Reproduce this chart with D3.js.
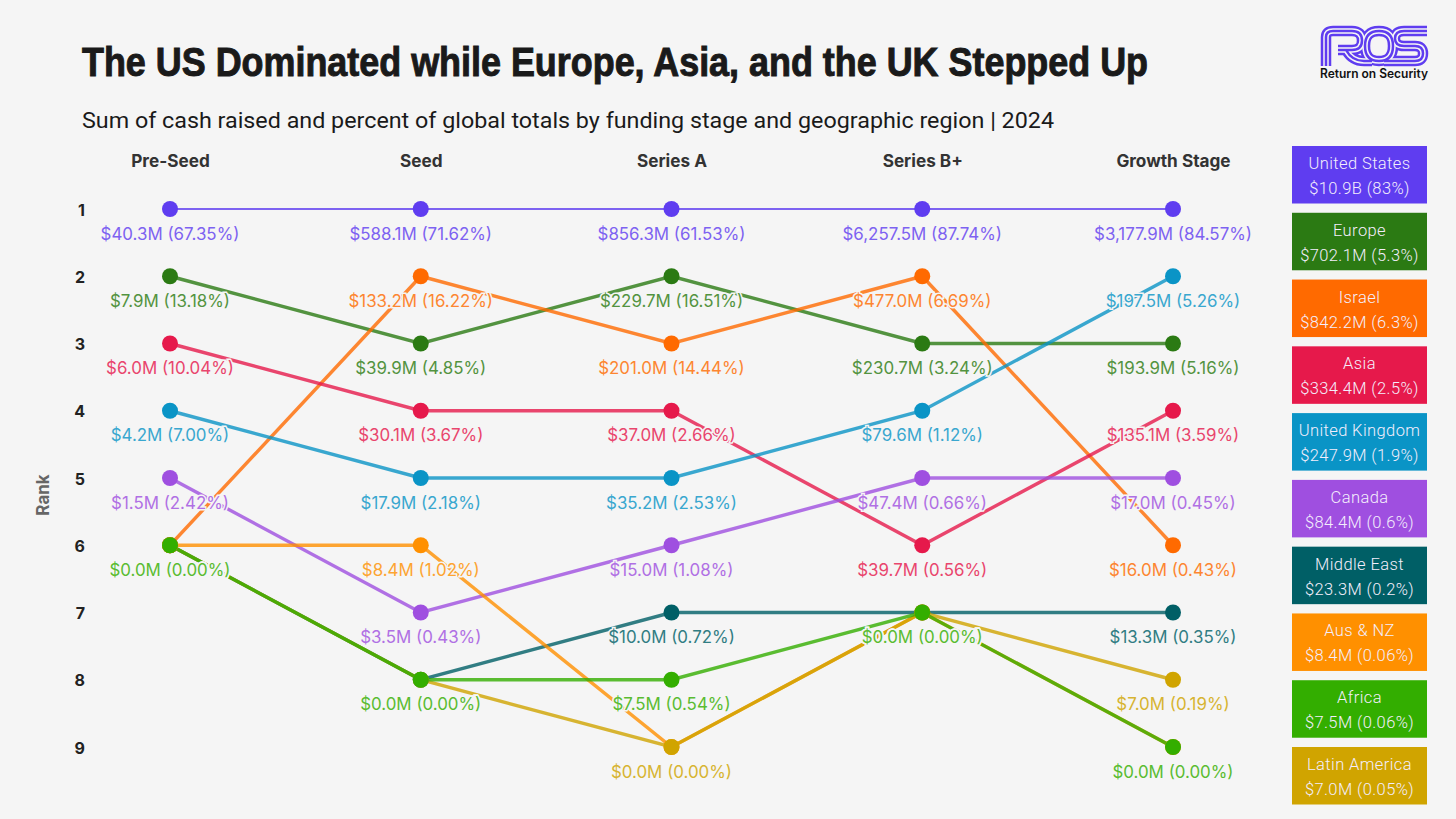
<!DOCTYPE html>
<html>
<head>
<meta charset="utf-8">
<title>ROS funding by region</title>
<script src="https://cdn.jsdelivr.net/npm/d3@7"></script>
<style>
  html, body { margin: 0; background: #f5f5f5; }
  svg { display: block; }
  .domain { display: none; }
</style>
</head>
<body>
<svg id="chart" width="1456" height="819"></svg>
<script>
const stages = ['Pre-Seed', 'Seed', 'Series A', 'Series B+', 'Growth Stage'];
const ranks = [1, 2, 3, 4, 5, 6, 7, 8, 9];

// draw order, later regions sit on top where ranks tie
const regions = ['United States', 'Europe', 'Israel', 'Asia', 'United Kingdom', 'Canada', 'Middle East', 'Aus & NZ', 'Latin America', 'Africa'];

const rankUS = [1, 1, 1, 1, 1];
const rankEurope = [2, 3, 2, 3, 3];
const rankIsrael = [6, 2, 3, 2, 6];
const rankAsia = [3, 4, 4, 6, 4];
const rankUK = [4, 5, 5, 4, 2];
const rankCanada = [5, 7, 6, 5, 5];
const rankMiddleEast = [6, 8, 7, 7, 7];
const rankAus = [6, 6, 9, 7, 9];
const rankLatam = [6, 8, 9, 7, 8];
const rankAfrica = [6, 8, 8, 7, 9];

const cashUS = [40.3, 588.1, 856.3, 6257.5, 3177.9];
const cashEurope = [7.9, 39.9, 229.7, 230.7, 193.9];
const cashIsrael = [0, 133.2, 201.0, 477.0, 16.0];
const cashAsia = [6.0, 30.1, 37.0, 39.7, 135.1];
const cashUK = [4.2, 17.9, 35.2, 79.6, 197.5];
const cashCanada = [1.5, 3.5, 15.0, 47.4, 17.0];
const cashMiddleEast = [0, 0, 10.0, 0, 13.3];
const cashAus = [0, 8.4, 0, 0, 0];
const cashLatam = [0, 0, 0, 0, 7.0];
const cashAfrica = [0, 0, 7.5, 0, 0];

const shareUS = [67.35, 71.62, 61.53, 87.74, 84.57];
const shareEurope = [13.18, 4.85, 16.51, 3.24, 5.16];
const shareIsrael = [0, 16.22, 14.44, 6.69, 0.43];
const shareAsia = [10.04, 3.67, 2.66, 0.56, 3.59];
const shareUK = [7.00, 2.18, 2.53, 1.12, 5.26];
const shareCanada = [2.42, 0.43, 1.08, 0.66, 0.45];
const shareMiddleEast = [0, 0, 0.72, 0, 0.35];
const shareAus = [0, 1.02, 0, 0, 0];
const shareLatam = [0, 0, 0, 0, 0.19];
const shareAfrica = [0, 0, 0.54, 0, 0];

const regionColors = ['#5f3df0', '#2b7a13', '#ff6a00', '#e6194b', '#0a94c6', '#9f4fe0', '#005f66', '#ff9000', '#d0a400', '#33ae00'];

// legend boxes, top to bottom
const legendNames = ['United States', 'Europe', 'Israel', 'Asia', 'United Kingdom', 'Canada', 'Middle East', 'Aus & NZ', 'Africa', 'Latin America'];
const legendTotals = ['$10.9B (83%)', '$702.1M (5.3%)', '$842.2M (6.3%)', '$334.4M (2.5%)', '$247.9M (1.9%)', '$84.4M (0.6%)', '$23.3M (0.2%)', '$8.4M (0.06%)', '$7.5M (0.06%)', '$7.0M (0.05%)'];

const rankRows = [rankUS, rankEurope, rankIsrael, rankAsia, rankUK, rankCanada, rankMiddleEast, rankAus, rankLatam, rankAfrica];
const cashRows = [cashUS, cashEurope, cashIsrael, cashAsia, cashUK, cashCanada, cashMiddleEast, cashAus, cashLatam, cashAfrica];
const shareRows = [shareUS, shareEurope, shareIsrael, shareAsia, shareUK, shareCanada, shareMiddleEast, shareAus, shareLatam, shareAfrica];

const BG = '#f5f5f5';
const svg = d3.select('#chart');
svg.append('rect').attr('width', 1456).attr('height', 819).attr('fill', BG);

const x = d3.scalePoint().domain(stages).range([170, 1173]);
const y = d3.scalePoint().domain(ranks).range([209, 747]);
const color = d3.scaleOrdinal().domain(regions).range(regionColors);

const money = d3.format(',.1f');
const series = regions.map((name, i) => ({
  name,
  points: stages.map((stage, j) => ({
    name,
    stage,
    rank: rankRows[i][j],
    label: `$${money(cashRows[i][j])}M (${shareRows[i][j].toFixed(2)}%)`
  }))
}));

// Title block
svg.append('text')
  .attr('x', 82).attr('y', 76)
  .attr('textLength', 1066).attr('lengthAdjust', 'spacingAndGlyphs')
  .style('font', 'bold 41px "Liberation Sans Narrow", sans-serif')
  .attr('fill', '#1a1a1a')
  .attr('stroke', '#1a1a1a')
  .attr('stroke-width', 1)
  .text('The US Dominated while Europe, Asia, and the UK Stepped Up');

svg.append('text')
  .attr('x', 82).attr('y', 128)
  .attr('textLength', 972).attr('lengthAdjust', 'spacingAndGlyphs')
  .style('font', '400 22.5px Roboto, sans-serif')
  .attr('fill', '#1a1a1a')
  .text('Sum of cash raised and percent of global totals by funding stage and geographic region | 2024');

// Axes
const topAxis = svg.append('g')
  .attr('transform', 'translate(0,167)')
  .call(d3.axisTop(x).tickSize(0).tickPadding(0));
topAxis.selectAll('text')
  .style('font', '700 17.2px Inter, sans-serif')
  .attr('fill', '#333');

const leftAxis = svg.append('g')
  .attr('transform', 'translate(85,1)')
  .call(d3.axisLeft(y).tickSize(0).tickPadding(0));
leftAxis.selectAll('text')
  .style('font', '700 16px Inter, sans-serif')
  .attr('fill', '#222');

svg.append('text')
  .attr('transform', 'translate(49,495) rotate(-90)')
  .attr('text-anchor', 'middle')
  .style('font', '700 17px Inter, sans-serif')
  .attr('fill', '#666')
  .text('Rank');

// Lines
const line = d3.line().x(d => x(d.stage)).y(d => y(d.rank));

svg.append('g').selectAll('path')
  .data(series)
  .join('path')
  .attr('d', d => line(d.points))
  .attr('fill', 'none')
  .attr('stroke', d => color(d.name))
  .attr('stroke-width', d => d.name === 'United States' ? 2 : 3.4)
  .attr('stroke-opacity', 0.8);

// Dots
svg.append('g').selectAll('circle')
  .data(series.flatMap(d => d.points))
  .join('circle')
  .attr('cx', d => x(d.stage))
  .attr('cy', d => y(d.rank))
  .attr('r', 8)
  .attr('fill', d => color(d.name));

// Value labels, the halo hides whichever label sits underneath on ties
svg.append('g').selectAll('text')
  .data(series.flatMap(d => d.points))
  .join('text')
  .attr('x', d => x(d.stage))
  .attr('y', d => y(d.rank) + 30.5)
  .attr('text-anchor', 'middle')
  .style('font', '16.9px Inter, sans-serif')
  .style('paint-order', 'stroke')
  .attr('stroke', BG)
  .attr('stroke-width', 3)
  .attr('fill', d => d3.interpolateRgb(color(d.name), BG)(0.2))
  .text(d => d.label);

// Legend
const legendY = d3.scalePoint().domain(legendNames).range([146, 747]);
const legend = svg.append('g').selectAll('g')
  .data(legendNames)
  .join('g')
  .attr('transform', d => `translate(1292,${legendY(d)})`);

legend.append('rect')
  .attr('width', 135).attr('height', 57.5)
  .attr('fill', d => color(d));

legend.append('text')
  .attr('x', 67.5).attr('y', 23)
  .attr('text-anchor', 'middle')
  .style('font', '300 16.5px Roboto, sans-serif')
  .style('letter-spacing', '0.4px')
  .attr('fill', '#f4eefc')
  .text(d => d);

legend.append('text')
  .attr('x', 67.5).attr('y', 48)
  .attr('text-anchor', 'middle')
  .style('font', '300 16.5px Roboto, sans-serif')
  .style('letter-spacing', '0.4px')
  .attr('fill', '#f4eefc')
  .text((d, i) => legendTotals[i]);

// Logo, striped by stacking the same strokes
const logoPaths = [
  'M1326,66 V37 Q1326,31 1333,31 H1352 Q1362,31 1362,40.5 Q1362,50 1352,50 H1338 M1346,50 Q1352,61 1364,61 H1372',
  'M1379,31 Q1393,31 1393,46 Q1393,61 1379,61 Q1365,61 1365,46 Q1365,31 1379,31 Z',
  'M1427,31 H1404 Q1395,31 1395,38.5 Q1395,46 1404,46 H1415 Q1423,46 1423,53.5 Q1423,61 1415,61 H1384'
];
const logo = svg.append('g').attr('fill', 'none');
[[10.5, '#5f3df0'], [5.5, BG], [2.5, '#5f3df0']].forEach(([w, c]) => {
  logo.append('g').selectAll('path')
    .data(logoPaths)
    .join('path')
    .attr('d', d => d)
    .attr('stroke', c)
    .attr('stroke-width', w);
});

svg.append('text')
  .attr('x', 1320).attr('y', 78)
  .attr('textLength', 108).attr('lengthAdjust', 'spacingAndGlyphs')
  .style('font', '600 12.5px Inter, sans-serif')
  .attr('fill', '#111')
  .text('Return on Security');
</script>
</body>
</html>
